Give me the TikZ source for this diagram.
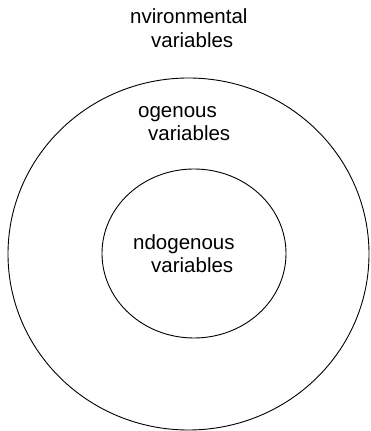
\documentclass[tikz,border=0pt]{standalone}
\usepackage{fontspec}
\setmainfont{Liberation Sans}
\usetikzlibrary{shapes.geometric}
\tikzset{
  ring/.style={ellipse, draw, line width=0.9pt, inner sep=0pt},
  % anchored at the baseline of the second (last) line
  label/.style={anchor=base west, inner sep=0pt, align=left,
    font=\fontsize{20.5}{23.5}\selectfont}
}
\begin{document}
\begin{tikzpicture}[x=1pt, y=1pt]
  \useasboundingbox (0,0) rectangle (370,431);
  % nested variable regions
  \node[ring, minimum width=361pt, minimum height=352pt] (outer) at (188.5,177) {};
  \node[ring, minimum width=184pt, minimum height=169pt] (inner) at (194,177.5) {};
  % labels
  \node[label] (env) at (130,383.5) {nvironmental\\\hspace*{21pt}variables};
  \node[label] (exo) at (138,290) {ogenous\\\hspace*{10pt}variables};
  \node[label] (endo) at (133,158) {ndogenous\\\hspace*{18pt}variables};
\end{tikzpicture}
\end{document}
